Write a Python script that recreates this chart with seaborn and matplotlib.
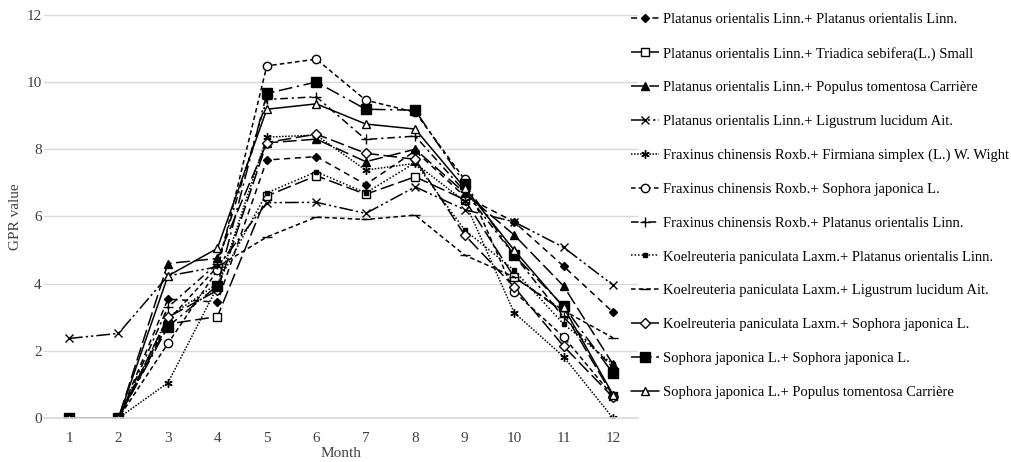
import matplotlib
matplotlib.use("Agg")
import matplotlib.pyplot as plt
import seaborn as sns
import numpy as np

months = [1, 2, 3, 4, 5, 6, 7, 8, 9, 10, 11, 12]

labels = [
    "Platanus orientalis Linn.+ Platanus orientalis Linn.",
    "Platanus orientalis Linn.+ Triadica sebifera(L.) Small",
    "Platanus orientalis Linn.+ Populus tomentosa Carrière",
    "Platanus orientalis Linn.+ Ligustrum lucidum Ait.",
    "Fraxinus chinensis Roxb.+ Firmiana simplex (L.) W. Wight",
    "Fraxinus chinensis Roxb.+ Sophora japonica L.",
    "Fraxinus chinensis Roxb.+ Platanus orientalis Linn.",
    "Koelreuteria paniculata Laxm.+ Platanus orientalis Linn.",
    "Koelreuteria paniculata Laxm.+ Ligustrum lucidum Ait.",
    "Koelreuteria paniculata Laxm.+ Sophora japonica L.",
    "Sophora japonica L.+ Sophora japonica L.",
    "Sophora japonica L.+ Populus tomentosa Carrière",
]

pp_pp = [0, 0, 3.54, 3.45, 7.68, 7.78, 6.95, 7.95, 6.6, 5.84, 4.52, 3.15]
pp_ts = [0, 0, 2.8, 3.02, 6.61, 7.21, 6.66, 7.18, 6.5, 4.2, 3.16, 0.65]
pp_pt = [0, 0, 4.6, 4.75, 8.19, 8.3, 7.63, 8.0, 6.7, 5.45, 3.93, 1.6]
pp_ll = [2.37, 2.52, 4.23, 4.5, 6.41, 6.42, 6.09, 6.88, 6.2, 5.84, 5.08, 3.96]
fc_fs = [0, 0, 1.05, 3.9, 8.36, 8.42, 7.38, 7.58, 6.45, 3.14, 1.83, 0.0]
fc_sj = [0, 0, 2.22, 4.4, 10.48, 10.68, 9.46, 9.1, 7.1, 3.76, 2.42, 0.65]
fc_po = [0, 0, 3.3, 4.6, 9.48, 9.56, 8.29, 8.39, 6.75, 4.85, 3.0, 1.5]
kp_po = [0, 0, 3.0, 4.0, 6.7, 7.33, 6.7, 7.6, 5.6, 4.4, 2.8, 1.6]
kp_ll = [0, 0, 2.9, 4.5, 5.39, 5.98, 5.91, 6.04, 4.85, 4.2, 3.2, 2.39]
kp_sj = [0, 0, 3.0, 3.8, 8.2, 8.45, 7.88, 7.7, 5.45, 3.9, 2.14, 0.62]
sj_sj = [0, 0, 2.72, 3.94, 9.66, 10.0, 9.19, 9.16, 6.98, 4.85, 3.33, 1.33]
sj_pt = [0, 0, 4.23, 5.05, 9.19, 9.35, 8.75, 8.6, 6.85, 5.0, 3.3, 0.7]

series = [pp_pp, pp_ts, pp_pt, pp_ll, fc_fs, fc_sj, fc_po, kp_po, kp_ll, kp_sj, sj_sj, sj_pt]

styles = [
    dict(marker="D", ms=4.5, mfc="black", ls=(0, (4, 3))),
    dict(marker="s", ms=6, mfc="white", ls=(0, (9, 3))),
    dict(marker="^", ms=6, mfc="black", ls=(0, (9, 3))),
    dict(marker="x", ms=6, mfc="black", ls=(0, (9, 2, 1.5, 2, 1.5, 2))),
    dict(marker=(6, 2, 0), ms=6, mfc="black", ls=(0, (1, 1))),
    dict(marker="o", ms=6, mfc="white", ls=(0, (3, 2))),
    dict(marker="+", ms=7, mfc="black", ls=(0, (5, 2.5, 1.5, 2.5))),
    dict(marker="s", ms=3, mfc="black", ls=(0, (1, 1.3))),
    dict(marker="_", ms=7, mfc="black", ls=(0, (3, 2))),
    dict(marker="D", ms=5, mfc="white", ls=(0, (9, 3))),
    dict(marker="s", ms=6.5, mfc="black", ls=(0, (9, 3, 1.5, 3))),
    dict(marker="^", ms=6, mfc="white", ls="-"),
]

sns.set_theme(style="white")
plt.rcParams["font.family"] = ["Liberation Serif", "DejaVu Serif"]

fig = plt.figure(figsize=(10.11, 4.62), dpi=100)
ax = fig.add_axes([0.0438, 0.095, 0.587, 0.873])

for vals, lab, st in zip(series, labels, styles):
    sns.lineplot(x=months, y=vals, ax=ax, color="black", linewidth=1.1,
                 linestyle=st["ls"], marker=st["marker"], markersize=st["ms"],
                 markerfacecolor=st["mfc"], markeredgecolor="black",
                 markeredgewidth=1.0, label=lab, legend=False)

ax.set_xlim(0.5, 12.5)
ax.set_ylim(0, 12)
ax.set_xticks(months)
ax.set_yticks([0, 2, 4, 6, 8, 10, 12])
ax.yaxis.grid(True, color="#d9d9d9", linewidth=1.0)
ax.xaxis.grid(False)
for s in ["top", "right", "left"]:
    ax.spines[s].set_visible(False)
ax.spines["bottom"].set_color("#d9d9d9")
ax.tick_params(axis="x", length=0, labelsize=11, colors="#404040", pad=10)
ax.tick_params(axis="y", length=0, labelsize=11, colors="#404040", pad=2)
ax.set_xlabel("Month", fontsize=11, color="#404040")
ax.xaxis.set_label_coords(0.5, -0.071)
ax.set_ylabel("GPR value", fontsize=11, color="#404040")
ax.yaxis.set_label_coords(-0.038, 0.5)

handles, labs = ax.get_legend_handles_labels()
leg = fig.legend(handles, labs, loc="upper left", bbox_to_anchor=(0.624, 0.972),
                 frameon=False, fontsize=10.5, labelspacing=1.41, handlelength=1.9,
                 handletextpad=0.3, borderaxespad=0, borderpad=0)
for t in leg.get_texts():
    t.set_color("black")

fig.savefig("out.png", dpi=100)
